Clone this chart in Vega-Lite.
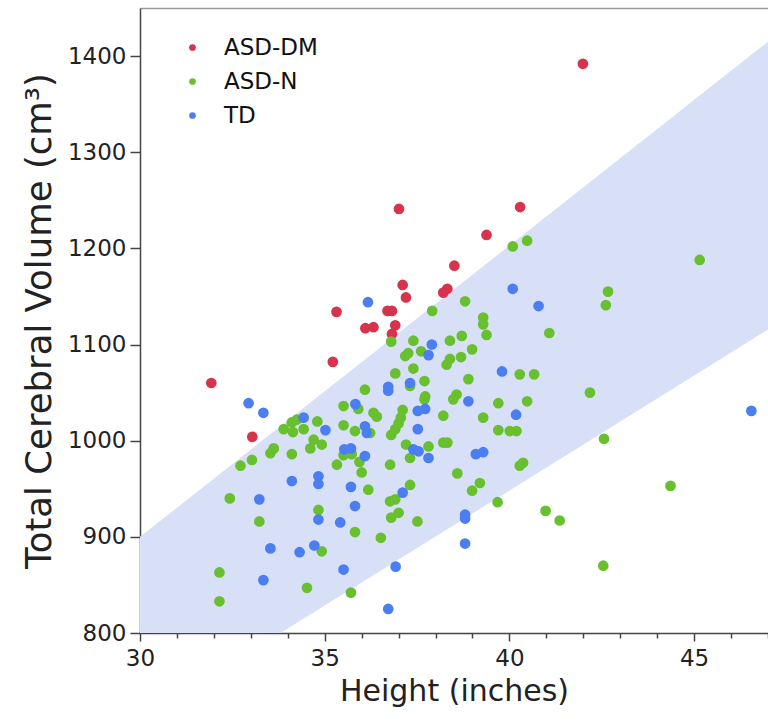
{
  "$schema": "https://vega.github.io/schema/vega-lite/v6.json",
  "width": 628,
  "height": 625,
  "autosize": "none",
  "padding": {"left": 140, "top": 8, "right": 0, "bottom": 88},
  "config": {
    "font": "DejaVu Sans",
    "view": {"stroke": null},
    "axis": {"grid": false}
  },
  "layer": [
    {
      "data": {"values": [
        {"x": 30, "lo": 709, "hi": 900},
        {"x": 47, "lo": 1115.6, "hi": 1415}
      ]},
      "mark": {"type": "area", "color": "#d8e0f8", "clip": true, "opacity": 1},
      "encoding": {
        "x": {"field": "x", "type": "quantitative", "scale": {"domain": [30, 47], "nice": false, "zero": false},
              "axis": {"orient": "top", "domain": true, "domainColor": "#9a9a9a", "domainWidth": 1.5, "ticks": false, "labels": false, "title": null}},
        "y": {"field": "lo", "type": "quantitative", "scale": {"domain": [800, 1450], "nice": false, "zero": false}, "axis": null},
        "y2": {"field": "hi"}
      }
    },
    {
      "data": {"values": [{"x": 30}, {"x": 47}]},
      "mark": {"type": "rule", "strokeOpacity": 0},
      "encoding": {
        "x": {"field": "x", "type": "quantitative",
              "axis": {"orient": "bottom", "values": [31, 32, 33, 34, 36, 37, 38, 39, 41, 42, 43, 44, 46, 47], "domain": false, "labels": false, "tickSize": 5, "tickColor": "#444", "tickWidth": 1.5, "title": null}}
      }
    },
    {
      "data": {"values": [
        {"h": 41.99, "v": 1392, "g": "ASD-DM"},
        {"h": 40.29, "v": 1243, "g": "ASD-DM"},
        {"h": 37.01, "v": 1241, "g": "ASD-DM"},
        {"h": 39.38, "v": 1214, "g": "ASD-DM"},
        {"h": 38.51, "v": 1182, "g": "ASD-DM"},
        {"h": 37.11, "v": 1162, "g": "ASD-DM"},
        {"h": 37.20, "v": 1149, "g": "ASD-DM"},
        {"h": 38.21, "v": 1154, "g": "ASD-DM"},
        {"h": 38.32, "v": 1158, "g": "ASD-DM"},
        {"h": 35.32, "v": 1134, "g": "ASD-DM"},
        {"h": 36.70, "v": 1135, "g": "ASD-DM"},
        {"h": 36.82, "v": 1135, "g": "ASD-DM"},
        {"h": 36.10, "v": 1117, "g": "ASD-DM"},
        {"h": 36.32, "v": 1118, "g": "ASD-DM"},
        {"h": 36.91, "v": 1120, "g": "ASD-DM"},
        {"h": 36.82, "v": 1111, "g": "ASD-DM"},
        {"h": 35.22, "v": 1082, "g": "ASD-DM"},
        {"h": 31.93, "v": 1060, "g": "ASD-DM"},
        {"h": 33.04, "v": 1004, "g": "ASD-DM"},

        {"h": 45.15, "v": 1188, "g": "ASD-N"},
        {"h": 42.67, "v": 1155, "g": "ASD-N"},
        {"h": 42.61, "v": 1141, "g": "ASD-N"},
        {"h": 42.18, "v": 1050, "g": "ASD-N"},
        {"h": 42.56, "v": 1002, "g": "ASD-N"},
        {"h": 44.36, "v": 953, "g": "ASD-N"},
        {"h": 42.54, "v": 870, "g": "ASD-N"},
        {"h": 40.48, "v": 1208, "g": "ASD-N"},
        {"h": 40.09, "v": 1202, "g": "ASD-N"},
        {"h": 38.80, "v": 1145, "g": "ASD-N"},
        {"h": 37.91, "v": 1135, "g": "ASD-N"},
        {"h": 39.29, "v": 1128, "g": "ASD-N"},
        {"h": 39.29, "v": 1121, "g": "ASD-N"},
        {"h": 39.38, "v": 1110, "g": "ASD-N"},
        {"h": 41.08, "v": 1112, "g": "ASD-N"},
        {"h": 36.80, "v": 1103, "g": "ASD-N"},
        {"h": 37.40, "v": 1104, "g": "ASD-N"},
        {"h": 37.26, "v": 1091, "g": "ASD-N"},
        {"h": 37.18, "v": 1088, "g": "ASD-N"},
        {"h": 37.61, "v": 1093, "g": "ASD-N"},
        {"h": 38.39, "v": 1104, "g": "ASD-N"},
        {"h": 38.71, "v": 1109, "g": "ASD-N"},
        {"h": 38.99, "v": 1095, "g": "ASD-N"},
        {"h": 38.39, "v": 1085, "g": "ASD-N"},
        {"h": 38.30, "v": 1079, "g": "ASD-N"},
        {"h": 38.69, "v": 1087, "g": "ASD-N"},
        {"h": 36.91, "v": 1070, "g": "ASD-N"},
        {"h": 37.40, "v": 1075, "g": "ASD-N"},
        {"h": 40.28, "v": 1069, "g": "ASD-N"},
        {"h": 40.67, "v": 1069, "g": "ASD-N"},
        {"h": 38.89, "v": 1064, "g": "ASD-N"},
        {"h": 37.70, "v": 1062, "g": "ASD-N"},
        {"h": 36.09, "v": 1053, "g": "ASD-N"},
        {"h": 37.31, "v": 1057, "g": "ASD-N"},
        {"h": 37.72, "v": 1046, "g": "ASD-N"},
        {"h": 37.70, "v": 1043, "g": "ASD-N"},
        {"h": 38.57, "v": 1048, "g": "ASD-N"},
        {"h": 38.48, "v": 1043, "g": "ASD-N"},
        {"h": 39.70, "v": 1039, "g": "ASD-N"},
        {"h": 40.48, "v": 1041, "g": "ASD-N"},
        {"h": 36.32, "v": 1029, "g": "ASD-N"},
        {"h": 36.41, "v": 1025, "g": "ASD-N"},
        {"h": 37.11, "v": 1032, "g": "ASD-N"},
        {"h": 37.06, "v": 1024, "g": "ASD-N"},
        {"h": 37.00, "v": 1018, "g": "ASD-N"},
        {"h": 36.91, "v": 1012, "g": "ASD-N"},
        {"h": 36.80, "v": 1006, "g": "ASD-N"},
        {"h": 38.21, "v": 1026, "g": "ASD-N"},
        {"h": 39.29, "v": 1024, "g": "ASD-N"},
        {"h": 35.51, "v": 1036, "g": "ASD-N"},
        {"h": 35.91, "v": 1033, "g": "ASD-N"},
        {"h": 34.25, "v": 1022, "g": "ASD-N"},
        {"h": 34.80, "v": 1020, "g": "ASD-N"},
        {"h": 33.89, "v": 1012, "g": "ASD-N"},
        {"h": 34.11, "v": 1019, "g": "ASD-N"},
        {"h": 34.14, "v": 1009, "g": "ASD-N"},
        {"h": 34.43, "v": 1012, "g": "ASD-N"},
        {"h": 35.51, "v": 1016, "g": "ASD-N"},
        {"h": 35.82, "v": 1010, "g": "ASD-N"},
        {"h": 36.23, "v": 1008, "g": "ASD-N"},
        {"h": 33.62, "v": 992, "g": "ASD-N"},
        {"h": 33.53, "v": 987, "g": "ASD-N"},
        {"h": 33.03, "v": 980, "g": "ASD-N"},
        {"h": 32.72, "v": 974, "g": "ASD-N"},
        {"h": 34.11, "v": 986, "g": "ASD-N"},
        {"h": 34.70, "v": 1001, "g": "ASD-N"},
        {"h": 34.61, "v": 992, "g": "ASD-N"},
        {"h": 34.92, "v": 996, "g": "ASD-N"},
        {"h": 35.51, "v": 985, "g": "ASD-N"},
        {"h": 35.73, "v": 986, "g": "ASD-N"},
        {"h": 35.33, "v": 975, "g": "ASD-N"},
        {"h": 35.94, "v": 978, "g": "ASD-N"},
        {"h": 36.00, "v": 967, "g": "ASD-N"},
        {"h": 36.18, "v": 949, "g": "ASD-N"},
        {"h": 39.70, "v": 1011, "g": "ASD-N"},
        {"h": 40.01, "v": 1010, "g": "ASD-N"},
        {"h": 40.19, "v": 1010, "g": "ASD-N"},
        {"h": 37.20, "v": 996, "g": "ASD-N"},
        {"h": 37.81, "v": 994, "g": "ASD-N"},
        {"h": 37.31, "v": 982, "g": "ASD-N"},
        {"h": 38.21, "v": 998, "g": "ASD-N"},
        {"h": 38.32, "v": 998, "g": "ASD-N"},
        {"h": 36.77, "v": 975, "g": "ASD-N"},
        {"h": 38.59, "v": 966, "g": "ASD-N"},
        {"h": 40.28, "v": 974, "g": "ASD-N"},
        {"h": 40.37, "v": 977, "g": "ASD-N"},
        {"h": 37.31, "v": 954, "g": "ASD-N"},
        {"h": 36.77, "v": 937, "g": "ASD-N"},
        {"h": 36.91, "v": 939, "g": "ASD-N"},
        {"h": 39.20, "v": 956, "g": "ASD-N"},
        {"h": 38.99, "v": 948, "g": "ASD-N"},
        {"h": 36.80, "v": 920, "g": "ASD-N"},
        {"h": 37.00, "v": 925, "g": "ASD-N"},
        {"h": 37.51, "v": 916, "g": "ASD-N"},
        {"h": 39.68, "v": 936, "g": "ASD-N"},
        {"h": 40.98, "v": 927, "g": "ASD-N"},
        {"h": 41.36, "v": 917, "g": "ASD-N"},
        {"h": 36.52, "v": 899, "g": "ASD-N"},
        {"h": 32.43, "v": 940, "g": "ASD-N"},
        {"h": 34.83, "v": 928, "g": "ASD-N"},
        {"h": 35.82, "v": 905, "g": "ASD-N"},
        {"h": 33.23, "v": 916, "g": "ASD-N"},
        {"h": 34.92, "v": 885, "g": "ASD-N"},
        {"h": 32.15, "v": 863, "g": "ASD-N"},
        {"h": 32.15, "v": 833, "g": "ASD-N"},
        {"h": 34.52, "v": 847, "g": "ASD-N"},
        {"h": 35.71, "v": 842, "g": "ASD-N"},

        {"h": 36.17, "v": 1144, "g": "TD"},
        {"h": 40.09, "v": 1158, "g": "TD"},
        {"h": 40.79, "v": 1140, "g": "TD"},
        {"h": 37.90, "v": 1100, "g": "TD"},
        {"h": 37.81, "v": 1089, "g": "TD"},
        {"h": 39.80, "v": 1072, "g": "TD"},
        {"h": 37.31, "v": 1060, "g": "TD"},
        {"h": 36.72, "v": 1056, "g": "TD"},
        {"h": 36.72, "v": 1052, "g": "TD"},
        {"h": 38.89, "v": 1041, "g": "TD"},
        {"h": 37.52, "v": 1031, "g": "TD"},
        {"h": 37.72, "v": 1033, "g": "TD"},
        {"h": 40.18, "v": 1027, "g": "TD"},
        {"h": 32.94, "v": 1039, "g": "TD"},
        {"h": 33.34, "v": 1029, "g": "TD"},
        {"h": 35.83, "v": 1038, "g": "TD"},
        {"h": 34.43, "v": 1024, "g": "TD"},
        {"h": 35.02, "v": 1011, "g": "TD"},
        {"h": 36.09, "v": 1015, "g": "TD"},
        {"h": 36.14, "v": 1008, "g": "TD"},
        {"h": 37.52, "v": 1012, "g": "TD"},
        {"h": 35.53, "v": 991, "g": "TD"},
        {"h": 35.71, "v": 992, "g": "TD"},
        {"h": 36.09, "v": 984, "g": "TD"},
        {"h": 37.40, "v": 991, "g": "TD"},
        {"h": 37.54, "v": 989, "g": "TD"},
        {"h": 37.81, "v": 982, "g": "TD"},
        {"h": 39.09, "v": 986, "g": "TD"},
        {"h": 39.29, "v": 988, "g": "TD"},
        {"h": 34.11, "v": 958, "g": "TD"},
        {"h": 34.83, "v": 963, "g": "TD"},
        {"h": 34.83, "v": 955, "g": "TD"},
        {"h": 35.71, "v": 952, "g": "TD"},
        {"h": 33.23, "v": 939, "g": "TD"},
        {"h": 34.83, "v": 918, "g": "TD"},
        {"h": 35.42, "v": 915, "g": "TD"},
        {"h": 35.82, "v": 932, "g": "TD"},
        {"h": 37.11, "v": 946, "g": "TD"},
        {"h": 38.80, "v": 923, "g": "TD"},
        {"h": 38.80, "v": 919, "g": "TD"},
        {"h": 38.80, "v": 893, "g": "TD"},
        {"h": 33.53, "v": 888, "g": "TD"},
        {"h": 34.32, "v": 884, "g": "TD"},
        {"h": 34.72, "v": 891, "g": "TD"},
        {"h": 33.34, "v": 855, "g": "TD"},
        {"h": 35.51, "v": 866, "g": "TD"},
        {"h": 36.92, "v": 869, "g": "TD"},
        {"h": 36.72, "v": 825, "g": "TD"},
        {"h": 46.55, "v": 1031, "g": "TD"}
      ]},
      "mark": {"type": "circle", "size": 115, "opacity": 1},
      "encoding": {
        "x": {"field": "h", "type": "quantitative",
              "axis": {"orient": "bottom", "values": [30, 35, 40, 45], "format": "d", "tickSize": 8, "tickWidth": 1.5, "tickColor": "#444", "domainColor": "#444", "domainWidth": 1.5,
                       "labelFontSize": 23, "labelColor": "#222", "labelPadding": 6, "labelFlush": false,
                       "title": "Height (inches)", "titleFontSize": 30, "titleFontWeight": "normal", "titleColor": "#222", "titlePadding": 6}},
        "y": {"field": "v", "type": "quantitative",
              "axis": {"values": [800, 900, 1000, 1100, 1200, 1300, 1400], "format": "d", "tickSize": 10, "tickWidth": 1.5, "tickColor": "#444", "domainColor": "#444", "domainWidth": 1.5,
                       "labelFontSize": 23, "labelColor": "#222", "labelPadding": 4, "labelFlush": false,
                       "title": "Total Cerebral Volume (cm³)", "titleFontSize": 35.5, "titleFontWeight": "normal", "titleColor": "#222", "titlePadding": 10}},
        "color": {"field": "g", "type": "nominal",
                  "scale": {"domain": ["ASD-DM", "ASD-N", "TD"], "range": ["#d8334d", "#68c02f", "#4b7ef0"]},
                  "legend": {"orient": "none", "legendX": 41, "legendY": 28, "title": null, "padding": 0,
                             "labelFontSize": 23, "labelColor": "#111", "symbolSize": 45, "symbolType": "circle", "symbolStrokeWidth": 0,
                             "labelOffset": 20, "rowPadding": 10}}
      }
    }
  ],
  "resolve": {"axis": {"x": "independent", "y": "independent"}}
}
